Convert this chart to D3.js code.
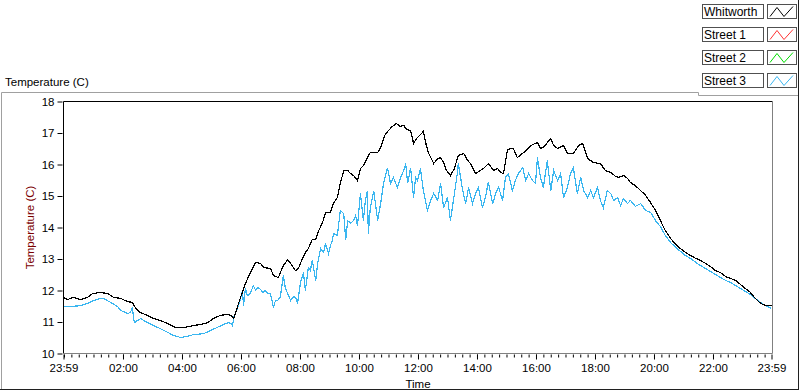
<!DOCTYPE html>
<html><head><meta charset="utf-8">
<script src="https://cdn.jsdelivr.net/npm/d3@7"></script>
<style>
html,body{margin:0;padding:0;background:#fff;}
svg{display:block;}
text{font-family:"Liberation Sans",Arial,sans-serif;}
</style></head>
<body>
<svg id="chart" width="800" height="392"></svg>
<script>
// ---- data ----
const seriesNames = ["Whitworth", "Street 1", "Street 2", "Street 3"];
const seriesColors = ["#000000", "#ff3333", "#00dd00", "#3ab6f0"];
const xTickMinutes = [0, 121, 241, 361, 481, 601, 721, 841, 961, 1081, 1201, 1321, 1440];
const xTickLabels = ["23:59", "02:00", "04:00", "06:00", "08:00", "10:00", "12:00", "14:00", "16:00", "18:00", "20:00", "22:00", "23:59"];
const yTickValues = [10, 11, 12, 13, 14, 15, 16, 17, 18];

// minutes after 23:59 and temperature (C)
const whitworthMinutes = [0,8,20,35,49,59,75,90,102,116,130,140,146,156,171,183,197,212,228,248,264,279,293,305,319,334,340,346,350,360,370,380,391,401,407,421,427,437,447,456,462,472,478,486,492,498,506,513,519,527,533,543,549,557,563,570,578,584,590,598,604,610,618,624,639,645,653,661,669,677,685,692,698,706,712,718,726,732,738,742,753,761,767,773,779,787,795,803,814,822,828,838,848,856,864,875,883,889,895,903,915,923,936,950,964,970,976,991,997,1005,1017,1025,1037,1048,1056,1066,1078,1092,1102,1113,1123,1129,1139,1147,1153,1163,1174,1184,1194,1204,1214,1224,1235,1245,1255,1265,1275,1286,1296,1306,1316,1326,1336,1347,1357,1367,1377,1387,1397,1407,1418,1428,1440];
const whitworthValues = [11.78,11.71,11.78,11.71,11.78,11.90,11.94,11.90,11.78,11.75,11.65,11.62,11.46,11.30,11.21,11.11,11.05,10.95,10.83,10.83,10.89,10.92,10.98,11.11,11.21,11.24,11.21,11.11,11.30,11.78,12.22,12.57,12.89,12.86,12.73,12.70,12.48,12.41,12.79,12.98,12.86,12.63,12.70,13.02,13.21,13.33,13.62,13.62,13.90,14.16,14.48,14.48,14.76,14.95,15.40,15.81,15.81,15.71,15.65,15.49,15.87,15.97,16.22,16.38,16.38,16.54,16.92,17.08,17.21,17.30,17.21,17.24,17.11,17.08,16.67,16.83,16.95,17.05,16.60,16.38,16.03,16.19,16.22,16.06,15.81,15.65,15.87,16.29,16.35,16.13,16.03,15.71,15.81,15.90,16.03,15.81,15.87,15.75,15.71,16.48,16.51,16.22,16.38,16.60,16.70,16.51,16.54,16.83,16.60,16.51,16.60,16.35,16.35,16.60,16.67,16.19,16.06,16.03,15.81,15.75,15.62,15.59,15.65,15.56,15.43,15.33,15.17,15.02,14.79,14.54,14.22,13.90,13.65,13.46,13.33,13.21,13.11,13.02,12.95,12.86,12.76,12.63,12.57,12.44,12.38,12.32,12.19,12.06,11.94,11.75,11.59,11.52,11.52];

const street1Minutes = [];
const street1Values = [];
const street2Minutes = [];
const street2Values = [];

const street3Minutes = [0,14,35,49,61,75,81,96,110,116,130,136,140,144,151,157,171,183,197,212,224,238,252,264,285,299,313,325,336,342,344,346,352,356,360,364,366,370,374,380,386,391,395,401,405,411,415,421,427,431,435,441,447,451,456,462,468,472,476,482,488,492,498,502,506,513,517,523,529,533,539,543,547,549,557,563,570,574,578,584,590,594,598,604,610,614,618,620,624,631,639,645,651,659,665,671,679,685,692,696,700,706,712,716,720,726,732,740,747,753,761,767,773,781,787,793,801,803,812,818,824,832,838,844,852,858,864,873,879,885,893,899,905,913,919,925,934,940,946,954,960,964,970,976,984,991,997,1005,1011,1017,1025,1031,1037,1045,1052,1058,1066,1072,1078,1086,1092,1098,1106,1113,1119,1127,1133,1139,1147,1153,1163,1174,1184,1194,1204,1214,1224,1235,1245,1255,1265,1275,1286,1296,1306,1316,1326,1336,1347,1357,1367,1377,1387,1397,1407,1418,1428,1440];
const street3Values = [11.49,11.49,11.52,11.59,11.68,11.75,11.75,11.62,11.49,11.37,11.27,11.30,11.46,10.98,11.05,11.11,10.98,10.89,10.79,10.67,10.57,10.51,10.54,10.60,10.63,10.73,10.83,10.92,10.98,10.95,10.89,11.14,11.37,11.52,11.75,12.00,11.52,12.06,11.84,11.90,12.16,12.00,12.10,12.03,11.94,12.00,11.90,11.90,11.46,11.68,11.68,11.78,12.48,12.10,11.90,11.68,11.81,11.78,11.59,12.25,12.57,12.00,12.73,12.63,12.95,12.32,12.86,13.33,13.21,13.49,13.17,13.43,13.59,13.81,13.75,14.54,14.44,13.59,14.22,14.13,14.22,14.38,14.06,15.08,14.22,14.86,15.17,13.81,14.63,15.17,14.22,14.76,15.40,15.90,15.40,15.59,15.27,15.56,15.81,16.03,15.40,15.90,14.95,15.59,15.49,15.87,15.17,14.54,14.86,15.08,14.86,15.40,14.63,14.95,14.22,14.86,15.71,16.03,15.17,14.76,15.27,14.76,15.08,15.27,14.63,14.95,15.43,14.76,15.08,15.27,14.86,15.59,15.71,15.17,15.49,15.71,15.90,15.49,15.71,15.49,15.40,16.22,15.59,15.27,16.13,15.17,15.81,15.49,15.71,14.95,15.27,15.71,15.90,15.08,15.59,15.17,14.95,15.17,14.95,15.27,14.86,14.63,15.17,15.08,14.86,14.95,14.70,14.92,14.76,14.86,14.67,14.76,14.54,14.48,14.22,14.03,13.75,13.52,13.37,13.24,13.11,13.02,12.89,12.79,12.70,12.60,12.51,12.41,12.32,12.25,12.16,12.06,11.97,11.87,11.75,11.62,11.52,11.43];

// ---- drawing ----
const svg = d3.select("#chart");
const FONT = 11.5;
const plot = {left: 63.5, right: 772.5, top: 101.5, bottom: 353.5};

const x = d3.scaleLinear().domain([0, 1440]).range([plot.left, plot.right - 1]);
const y = d3.scaleLinear().domain([10, 18]).range([plot.bottom, plot.top]);

// outer frame
svg.append("line").attr("x1", 1.5).attr("y1", 92.5).attr("x2", 698.5).attr("y2", 92.5).attr("stroke", "#a0a0a0");
svg.append("line").attr("x1", 1.5).attr("y1", 92.5).attr("x2", 1.5).attr("y2", 390).attr("stroke", "#a0a0a0");
svg.append("line").attr("x1", 0).attr("y1", 389.5).attr("x2", 799).attr("y2", 389.5).attr("stroke", "#202020");
svg.append("line").attr("x1", 798.5).attr("y1", 0).attr("x2", 798.5).attr("y2", 390).attr("stroke", "#202020");
svg.append("line").attr("x1", 698.5).attr("y1", 92.5).attr("x2", 698.5).attr("y2", 95.5).attr("stroke", "#a0a0a0");
svg.append("line").attr("x1", 698.5).attr("y1", 95.5).attr("x2", 798).attr("y2", 95.5).attr("stroke", "#a0a0a0");

// title
svg.append("text").attr("x", 5).attr("y", 86).attr("font-size", FONT).attr("fill", "#000").text("Temperature (C)");

// plot background
svg.append("rect").attr("x", plot.left).attr("y", plot.top).attr("width", plot.right - plot.left).attr("height", plot.bottom - plot.top).attr("fill", "#fff");

// clip
svg.append("defs").append("clipPath").attr("id", "clip")
  .append("rect").attr("x", plot.left).attr("y", plot.top).attr("width", plot.right - plot.left).attr("height", plot.bottom - plot.top);

const line = d3.line().x(d => x(d[0])).y(d => y(d[1]));
const seriesData = [
  d3.zip(whitworthMinutes, whitworthValues),
  d3.zip(street1Minutes, street1Values),
  d3.zip(street2Minutes, street2Values),
  d3.zip(street3Minutes, street3Values)
];
const gLines = svg.append("g").attr("clip-path", "url(#clip)");
[3, 2, 1, 0].forEach(i => {
  if (seriesData[i].length) {
    gLines.append("path").datum(seriesData[i])
      .attr("fill", "none").attr("stroke", seriesColors[i]).attr("stroke-width", 1.2)
      .attr("shape-rendering", "crispEdges")
      .attr("d", line);
  }
});

// borders of plot area (3D style)
svg.append("line").attr("x1", plot.left).attr("y1", plot.top).attr("x2", plot.right).attr("y2", plot.top).attr("stroke", "#000");
svg.append("line").attr("x1", plot.left).attr("y1", plot.top).attr("x2", plot.left).attr("y2", plot.bottom).attr("stroke", "#000");
svg.append("line").attr("x1", plot.right).attr("y1", plot.top).attr("x2", plot.right).attr("y2", plot.bottom).attr("stroke", "#808080");
svg.append("line").attr("x1", plot.left).attr("y1", plot.bottom).attr("x2", plot.right).attr("y2", plot.bottom).attr("stroke", "#808080");

// y axis
const yAxis = svg.append("g").attr("transform", `translate(${plot.left - 1},0)`)
  .call(d3.axisLeft(y).tickValues(yTickValues).tickSize(5).tickPadding(3).tickFormat(d3.format("d")));
yAxis.select(".domain").remove();
yAxis.selectAll("text").attr("font-size", FONT).attr("font-family", "Liberation Sans, Arial, sans-serif").attr("fill", "#000");
yAxis.selectAll("line").attr("stroke", "#000");

// y axis title
svg.append("text").attr("transform", `translate(34,${(plot.top + plot.bottom) / 2}) rotate(-90)`)
  .attr("text-anchor", "middle").attr("font-size", FONT).attr("fill", "#7a0000").text("Temperature (C)");

// x axis minor ticks
const minorTicks = d3.range(1, 1440, 15);
const xMinor = svg.append("g").attr("transform", `translate(0,${plot.bottom + 1})`)
  .call(d3.axisBottom(x).tickValues(minorTicks).tickSize(3).tickFormat(""));
xMinor.select(".domain").remove();
xMinor.selectAll("line").attr("stroke", "#000");

// x axis major ticks
const xAxis = svg.append("g").attr("transform", `translate(0,${plot.bottom + 1})`)
  .call(d3.axisBottom(x).tickValues(xTickMinutes).tickSize(5).tickPadding(4)
    .tickFormat((d, i) => xTickLabels[i]));
xAxis.select(".domain").remove();
xAxis.selectAll("text").attr("font-size", FONT).attr("font-family", "Liberation Sans, Arial, sans-serif").attr("fill", "#000");
xAxis.selectAll("line").attr("stroke", "#000");

// x axis title
svg.append("text").attr("x", (plot.left + plot.right) / 2).attr("y", 388).attr("text-anchor", "middle")
  .attr("font-size", FONT).attr("fill", "#000").text("Time");

// legend
const legend = svg.append("g");
seriesNames.forEach((name, i) => {
  const top = 4.5 + i * 23;
  const g = legend.append("g");
  g.append("rect").attr("x", 702.5).attr("y", top).attr("width", 61).attr("height", 14)
    .attr("fill", "#fff").attr("stroke", "#505050");
  g.append("text").attr("x", 704).attr("y", top + 11).attr("font-size", 12).attr("fill", "#000").text(name);
  g.append("rect").attr("x", 767.5).attr("y", top).attr("width", 29).attr("height", 14)
    .attr("fill", "#fff").attr("stroke", "#505050");
  g.append("path").attr("d", `M770,${top + 12} L777,${top + 3} L784,${top + 12} L793,${top + 2}`)
    .attr("fill", "none").attr("stroke", seriesColors[i]).attr("stroke-width", 1);
});
</script>
</body></html>
